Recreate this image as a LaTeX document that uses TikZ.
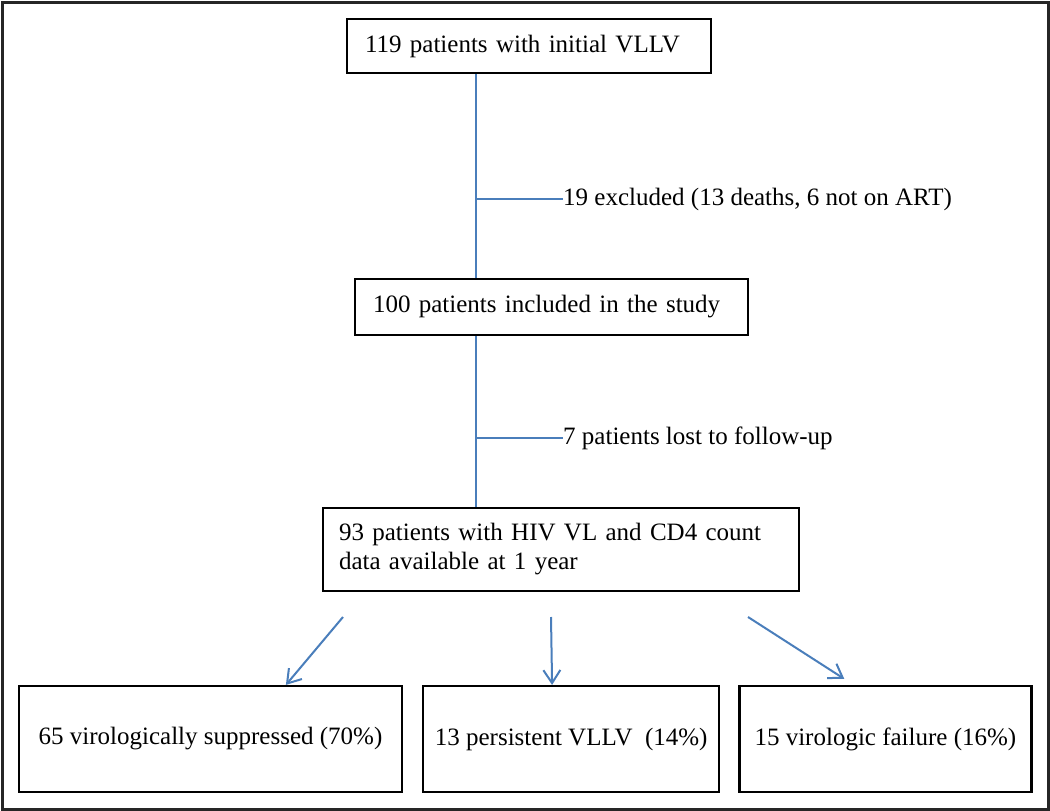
\documentclass[tikz,border=0pt]{standalone}
\usepackage{fontspec}
\setmainfont{Liberation Serif}
\usetikzlibrary{arrows.meta}
\usetikzlibrary{positioning}
\definecolor{flowblue}{HTML}{4A7EBB}

\begin{document}
\begin{tikzpicture}[x=1pt, y=-1pt,
  stagebox/.style={draw=black, line width=2pt, inner xsep=18pt, align=left, font=\fontsize{25}{29}\selectfont},
  outcome/.style={draw=black, line width=2.2pt, minimum height=106pt, align=center, font=\fontsize{25}{29}\selectfont},
  sidenote/.style={anchor=west, inner sep=0pt, font=\fontsize{25}{29}\selectfont},
  trunkline/.style={draw=flowblue, line width=2pt},
  flow/.style={flowblue, line width=2pt, -{Straight Barb[length=13pt,width=17pt]}}]
            \useasboundingbox (0,0) rectangle (1050,811);
            \draw[line width=3pt, black!85] (2,2) rectangle (1048,809);
            \node[stagebox, text width=328pt, minimum width=364pt, minimum height=54pt] (initial) at (529,46) {119 patients with initial VLLV};
            \node[stagebox, text width=357pt, minimum width=393pt, minimum height=56pt] (included) at (551.5,307) {100 patients included in the study};
            \node[stagebox, inner xsep=16pt, text width=444pt, minimum width=476pt, minimum height=83pt] (available) at (561,549.5) {93 patients with HIV VL and CD4 count\\data available at 1 year};
            \node[outcome, minimum width=383pt] (suppressed) at (210.5,739) {65 virologically suppressed (70\%)};
            \node[outcome, minimum width=296pt] (persistent) [right=19pt of suppressed] {13 persistent VLLV\ \ (14\%)};
            \node[outcome, minimum width=292pt] (failure) [right=18pt of persistent] {15 virologic failure (16\%)};
            \node[sidenote] (excluded) at (563,199) {19 excluded (13 deaths, 6 not on ART)};
            \node[sidenote] (lost) at (563,438) {7 patients lost to follow-up};
            \coordinate (trunk) at (476,0);
            \coordinate (fromA) at (343,617);
            \coordinate (fromB) at (551,617);
            \coordinate (fromC) at (748,617);
            \draw[trunkline] (initial.south -| trunk) -- (included.north -| trunk);
            \draw[trunkline] (included.south -| trunk) -- (available.north -| trunk);
            \draw[trunkline] (excluded.west -| trunk) -- (excluded.west);
            \draw[trunkline] (lost.west -| trunk) -- (lost.west);
            \draw[flow] (fromA) -- ([xshift=268pt]suppressed.north west);
            \draw[flow] (fromB) -- ([xshift=130pt]persistent.north west);
            \draw[flow] (fromC) -- ([xshift=106pt,yshift=6pt]failure.north west);
        \end{tikzpicture}
\end{document}
